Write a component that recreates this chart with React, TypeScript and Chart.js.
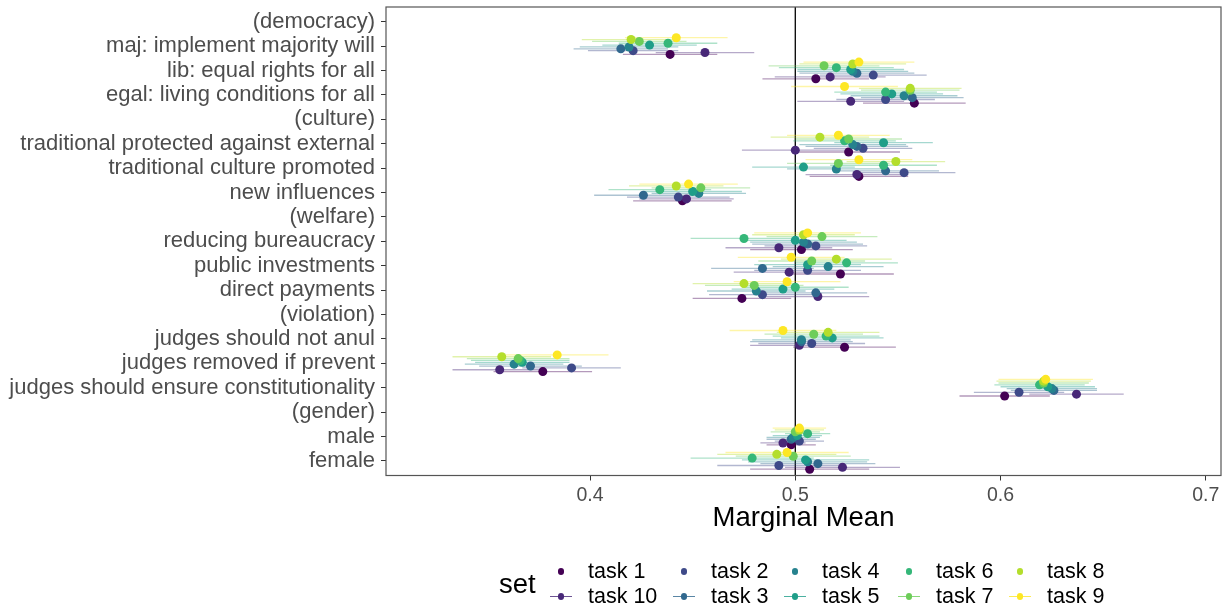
import React, { useEffect, useRef } from "react";
import { Chart, registerables } from "chart.js";

Chart.register(...registerables);

const FONT = "'Liberation Sans', Arial, Helvetica, sans-serif";

const rowLabels = [
  "(democracy)",
  "maj: implement majority will",
  "lib: equal rights for all",
  "egal: living conditions for all",
  "(culture)",
  "traditional protected against external",
  "traditional culture promoted",
  "new influences",
  "(welfare)",
  "reducing bureaucracy",
  "public investments",
  "direct payments",
  "(violation)",
  "judges should not anul",
  "judges removed if prevent",
  "judges should ensure constitutionality",
  "(gender)",
  "male",
  "female",
];

const xTicks = [0.4, 0.5, 0.6, 0.7];
const xLabel = "Marginal Mean";
const legendTitle = "set";

const taskNames = ["task 1", "task 10", "task 2", "task 3", "task 4", "task 5", "task 6", "task 7", "task 8", "task 9"];
const taskColors = ["#440154", "#482878", "#3E4A89", "#31688E", "#26828E", "#1F9E89", "#35B779", "#6DCD59", "#B4DE2C", "#FDE725"];

// means per task, one entry per row (null = group header)
const task1Mean = [null, 0.439, 0.510, 0.558, null, 0.526, 0.531, 0.445, null, 0.503, 0.522, 0.474, null, 0.524, 0.377, 0.602, null, 0.498, 0.507];
const task10Mean = [null, 0.456, 0.517, 0.527, null, 0.500, 0.530, 0.447, null, 0.492, 0.497, 0.511, null, 0.502, 0.356, 0.637, null, 0.494, 0.523];
const task2Mean = [null, 0.421, 0.538, 0.544, null, 0.533, 0.553, 0.443, null, 0.510, 0.506, 0.484, null, 0.508, 0.391, 0.609, null, 0.502, 0.492];
const task3Mean = [null, 0.415, 0.530, 0.557, null, 0.530, 0.544, 0.426, null, 0.506, 0.484, 0.510, null, 0.503, 0.371, 0.626, null, 0.498, 0.511];
const task4Mean = [null, 0.419, 0.528, 0.553, null, 0.528, 0.520, 0.453, null, 0.504, 0.516, 0.481, null, 0.503, 0.363, 0.625, null, 0.499, 0.506];
const task5Mean = [null, 0.429, 0.527, 0.547, null, 0.543, 0.504, 0.450, null, 0.500, 0.506, 0.494, null, 0.518, 0.367, 0.623, null, 0.501, 0.505];
const task6Mean = [null, 0.438, 0.520, 0.544, null, 0.524, 0.543, 0.434, null, 0.475, 0.525, 0.500, null, 0.515, 0.366, 0.619, null, 0.506, 0.479];
const task7Mean = [null, 0.424, 0.514, 0.556, null, 0.526, 0.521, 0.454, null, 0.513, 0.508, 0.480, null, 0.509, 0.365, 0.621, null, 0.500, 0.499];
const task8Mean = [null, 0.420, 0.528, 0.556, null, 0.512, 0.549, 0.442, null, 0.504, 0.520, 0.475, null, 0.516, 0.357, 0.621, null, 0.502, 0.491];
const task9Mean = [null, 0.442, 0.531, 0.524, null, 0.521, 0.531, 0.448, null, 0.506, 0.498, 0.496, null, 0.494, 0.384, 0.622, null, 0.502, 0.496];

// confidence-interval half widths per task
const task1Err = [null, 0.023, 0.026, 0.025, null, 0.025, 0.024, 0.024, null, 0.025, 0.026, 0.024, null, 0.025, 0.024, 0.022, null, 0.012, 0.029];
const task10Err = [null, 0.024, 0.027, 0.026, null, 0.026, 0.025, 0.023, null, 0.026, 0.027, 0.025, null, 0.024, 0.023, 0.023, null, 0.011, 0.028];
const task2Err = [null, 0.022, 0.026, 0.024, null, 0.024, 0.025, 0.025, null, 0.025, 0.026, 0.026, null, 0.026, 0.024, 0.022, null, 0.012, 0.030];
const task3Err = [null, 0.023, 0.028, 0.025, null, 0.025, 0.026, 0.024, null, 0.027, 0.025, 0.025, null, 0.025, 0.025, 0.021, null, 0.012, 0.028];
const task4Err = [null, 0.024, 0.027, 0.026, null, 0.026, 0.024, 0.023, null, 0.026, 0.027, 0.024, null, 0.024, 0.024, 0.022, null, 0.013, 0.029];
const task5Err = [null, 0.023, 0.026, 0.025, null, 0.024, 0.025, 0.024, null, 0.025, 0.026, 0.025, null, 0.025, 0.023, 0.023, null, 0.012, 0.031];
const task6Err = [null, 0.024, 0.028, 0.025, null, 0.025, 0.026, 0.025, null, 0.026, 0.025, 0.026, null, 0.026, 0.024, 0.022, null, 0.011, 0.030];
const task7Err = [null, 0.023, 0.027, 0.024, null, 0.026, 0.025, 0.024, null, 0.027, 0.026, 0.024, null, 0.024, 0.025, 0.022, null, 0.012, 0.028];
const task8Err = [null, 0.024, 0.026, 0.025, null, 0.024, 0.024, 0.023, null, 0.025, 0.027, 0.025, null, 0.025, 0.024, 0.023, null, 0.012, 0.029];
const task9Err = [null, 0.025, 0.027, 0.026, null, 0.025, 0.026, 0.024, null, 0.026, 0.026, 0.026, null, 0.026, 0.025, 0.023, null, 0.013, 0.030];

const taskMeans = [task1Mean, task10Mean, task2Mean, task3Mean, task4Mean, task5Mean, task6Mean, task7Mean, task8Mean, task9Mean];
const taskErrs = [task1Err, task10Err, task2Err, task3Err, task4Err, task5Err, task6Err, task7Err, task8Err, task9Err];

const refValue = 0.5;

function hexToRgba(hex: string, a: number) {
  const n = parseInt(hex.slice(1), 16);
  return `rgba(${(n >> 16) & 255},${(n >> 8) & 255},${n & 255},${a})`;
}

const DODGE = 0.076;
const LINE_ALPHA = 0.4;

const errorBarsPlugin = {
  id: "errorBars",
  beforeDatasetsDraw(chart: any) {
    const { ctx, chartArea, scales } = chart;
    const xs = scales.x;
    const ys = scales.y;
    ctx.save();
    ctx.beginPath();
    ctx.rect(chartArea.left, chartArea.top, chartArea.right - chartArea.left, chartArea.bottom - chartArea.top);
    ctx.clip();
    const xr = xs.getPixelForValue(refValue);
    ctx.strokeStyle = "#000000";
    ctx.lineWidth = 1.3;
    ctx.beginPath();
    ctx.moveTo(xr, chartArea.top);
    ctx.lineTo(xr, chartArea.bottom);
    ctx.stroke();
    chart.data.datasets.forEach((ds: any, k: number) => {
      ctx.strokeStyle = hexToRgba(taskColors[k], LINE_ALPHA);
      ctx.lineWidth = 1.3;
      ds.data.forEach((p: any) => {
        const y = ys.getPixelForValue(p.y);
        ctx.beginPath();
        ctx.moveTo(xs.getPixelForValue(p.lo), y);
        ctx.lineTo(xs.getPixelForValue(p.hi), y);
        ctx.stroke();
      });
    });
    ctx.restore();
  },
  afterDraw(chart: any) {
    const { ctx, chartArea } = chart;
    ctx.save();
    ctx.strokeStyle = "#555555";
    ctx.lineWidth = 1.2;
    ctx.strokeRect(chartArea.left, chartArea.top, chartArea.right - chartArea.left, chartArea.bottom - chartArea.top);
    ctx.restore();
  },
};

export default function App() {
  const ref = useRef<HTMLCanvasElement>(null);

  useEffect(() => {
    if (!ref.current) return;
    const datasets = taskNames.map((name, k) => {
      const offset = (4.5 - k) * DODGE;
      const pts: any[] = [];
      taskMeans[k].forEach((m, i) => {
        if (m == null) return;
        const e = taskErrs[k][i] as number;
        pts.push({ x: m, y: i + offset, lo: m - e, hi: m + e });
      });
      return {
        label: name,
        data: pts,
        backgroundColor: taskColors[k],
        borderColor: taskColors[k],
        pointRadius: 4.5,
        pointHoverRadius: 4.5,
        pointBorderWidth: 0,
        showLine: false,
        order: 9 - k,
      };
    });

    const chart = new Chart(ref.current, {
      type: "scatter",
      data: { datasets },
      plugins: [errorBarsPlugin],
      options: {
        animation: false,
        responsive: false,
        maintainAspectRatio: false,
        events: [],
        layout: { padding: { left: 0, right: 11, top: 7, bottom: 75.5 } },
        plugins: { legend: { display: false }, tooltip: { enabled: false } },
        scales: {
          x: {
            type: "linear",
            min: 0.3006,
            max: 0.7074,
            afterBuildTicks: (scale: any) => {
              scale.ticks = xTicks.map((v) => ({ value: v }));
            },
            afterFit: (scale: any) => {
              scale.height = 60;
              scale.paddingLeft = 0;
              scale.paddingRight = 0;
              scale.paddingTop = 0;
              scale.paddingBottom = 0;
            },
            ticks: {
              callback: (v: any) => String(v),
              font: { family: FONT, size: 19.5 },
              color: "#4D4D4D",
              padding: 3,
              maxRotation: 0,
              autoSkip: false,
            },
            grid: { drawOnChartArea: false, drawTicks: true, tickLength: 5, color: "#333333", lineWidth: 1 },
            border: { display: false },
            title: {
              display: true,
              text: xLabel,
              font: { family: FONT, size: 27.5 },
              color: "#000000",
              padding: { top: 0, bottom: 1 },
            },
          },
          y: {
            type: "linear",
            reverse: true,
            min: -0.6,
            max: 18.6,
            afterBuildTicks: (scale: any) => {
              scale.ticks = rowLabels.map((_, i) => ({ value: i }));
            },
            afterFit: (scale: any) => {
              scale.width = 386;
              scale.paddingLeft = 0;
              scale.paddingRight = 0;
              scale.paddingTop = 0;
              scale.paddingBottom = 0;
            },
            ticks: {
              callback: (v: any) => rowLabels[v] ?? "",
              font: { family: FONT, size: 22 },
              color: "#4D4D4D",
              padding: 6,
              autoSkip: false,
            },
            grid: { drawOnChartArea: false, drawTicks: true, tickLength: 5, color: "#333333", lineWidth: 1 },
            border: { display: false },
          },
        },
      },
    } as any);
    return () => chart.destroy();
  }, []);

  const cols = [
    { dotX: 561, items: [0, 1] },
    { dotX: 684, items: [2, 3] },
    { dotX: 795, items: [4, 5] },
    { dotX: 909, items: [6, 7] },
    { dotX: 1020, items: [8, 9] },
  ];
  const rowCenters = [571.7, 596.5];
  const legendFont = 21.5;

  return (
    <div style={{ position: "fixed", left: 0, top: 0, width: 1232, height: 611, background: "#ffffff", fontFamily: FONT }}>
      <canvas ref={ref} width={1232} height={611} style={{ position: "absolute", left: 0, top: 0, width: 1232, height: 611 }} />
      <div
        style={{
          position: "absolute",
          left: 499,
          top: 585.7 - 0.5865 * 27.5,
          fontSize: 27.5,
          lineHeight: "27.5px",
          color: "#000",
          whiteSpace: "nowrap",
        }}
      >
        {legendTitle}
      </div>
      {cols.map((c, ci) =>
        c.items.map((k, ri) => (
          <React.Fragment key={`${ci}-${ri}`}>
            {ri === 1 && (
              <div
                style={{
                  position: "absolute",
                  left: c.dotX - 11,
                  top: rowCenters[ri] - 0.75,
                  width: 22,
                  height: 1.5,
                  background: hexToRgba(taskColors[k], 0.8),
                }}
              />
            )}
            <div
              style={{
                position: "absolute",
                left: c.dotX - 3.25,
                top: rowCenters[ri] - 3.25,
                width: 6.5,
                height: 6.5,
                borderRadius: 3.25,
                background: taskColors[k],
              }}
            />
            <div
              style={{
                position: "absolute",
                left: c.dotX + 27,
                top: rowCenters[ri] - 0.4865 * legendFont,
                fontSize: legendFont,
                lineHeight: `${legendFont}px`,
                color: "#000",
                whiteSpace: "nowrap",
              }}
            >
              {taskNames[k]}
            </div>
          </React.Fragment>
        ))
      )}
    </div>
  );
}
